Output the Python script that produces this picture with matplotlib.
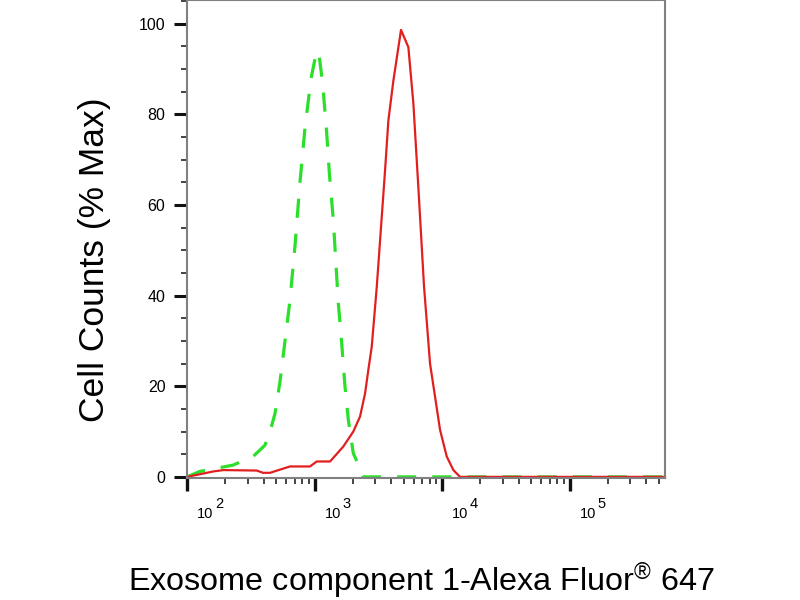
import matplotlib
matplotlib.use('Agg')
import matplotlib.pyplot as plt
from matplotlib.ticker import LogLocator, FixedLocator, MultipleLocator, NullFormatter
import numpy as np

plt.rcParams['font.family'] = ['Liberation Sans', 'DejaVu Sans']
plt.rcParams['mathtext.fontset'] = 'custom'
plt.rcParams['mathtext.rm'] = 'Liberation Sans'
plt.rcParams['mathtext.it'] = 'Liberation Sans'

# isotype control (green dashed)
ctrl_x = [100, 126, 230, 330, 409, 448, 490, 536, 587, 642, 703, 769, 842, 940,
          1040, 1091, 1159, 1247, 1307, 1404, 1537, 1634, 1734, 1841, 2014, 2274,
          2400, 560000]
ctrl_y = [0, 1.2, 2.6, 4.5, 7, 10, 14, 21, 30, 39, 51, 65, 77, 88,
          94, 92.6, 86.7, 75.7, 67, 56.6, 38.3, 29.4, 19.9, 12.6, 5.2, 1.9,
          0, 0]

# sample (red solid)
samp_x = [100, 161, 193, 352, 395, 448, 642, 922, 1040, 1324, 1682, 2014, 2274,
          2490, 2642, 2809, 3076, 3573, 3793, 4152, 4766, 5443, 5957, 6518,
          7221, 8049, 8810, 9640, 10880, 12270, 13840, 560000]
samp_y = [0, 1.2, 1.5, 1.4, 0.9, 0.9, 2.3, 2.3, 3.4, 3.4, 6.7, 10, 13.3,
          18.4, 23.6, 28.7, 41.9, 67.6, 78.6, 87.4, 98.6, 94.8, 82.4, 63.9,
          42, 25, 17.7, 10.4, 4.5, 1.5, 0, 0]

major_x = [1e2, 1e3, 1e4, 1e5]
y_ticks = [0, 20, 40, 60, 80, 100]

fig = plt.figure(figsize=(8, 6), dpi=100)
ax = fig.add_axes([0.23375, 0.2033, 0.5975, 0.7959])

ax.plot(ctrl_x, ctrl_y, color='#2bdf2b', lw=2.3, linestyle=(0, (6, 5)), clip_on=False)
ax.plot(samp_x, samp_y, color='#e11f1f', lw=1.6, clip_on=False)

ax.set_xscale('log')
ax.set_xlim(100, 560000)
ax.set_ylim(-0.25, 105.1)

ax.xaxis.set_major_locator(FixedLocator(major_x))
ax.xaxis.set_major_formatter(NullFormatter())
ax.xaxis.set_minor_locator(LogLocator(base=10, subs=range(2, 10)))
ax.xaxis.set_minor_formatter(NullFormatter())
ax.set_yticks(y_ticks)
ax.yaxis.set_minor_locator(MultipleLocator(5))

ax.tick_params(axis='both', which='major', direction='out', color='#111111',
               labelsize=11.5)
ax.tick_params(axis='x', which='major', length=9, width=2.4)
ax.tick_params(axis='y', which='major', length=9.5, width=2.2, pad=6)
ax.tick_params(axis='both', which='minor', direction='out', color='#111111',
               length=4.5, width=1.1)

# decade labels: "10" with a big raised exponent, right of the tick
for xv in major_x:
    ax.annotate('10', xy=(xv, 0), xycoords=('data', 'axes fraction'),
                xytext=(7.2, -28.5), textcoords='offset points',
                ha='left', va='baseline', fontsize=10.5)
    ax.annotate('%d' % round(np.log10(xv)), xy=(xv, 0),
                xycoords=('data', 'axes fraction'),
                xytext=(20, -21.8), textcoords='offset points',
                ha='left', va='baseline', fontsize=10.5)

for s in ax.spines.values():
    s.set_color('#808080')
    s.set_linewidth(1.5)

fig.text(95 / 800, 1 - 260 / 600, 'Cell Counts (% Max)', rotation=90,
         ha='center', va='center', fontsize=25.5)
fig.text(128 / 800, 1 - 591.7 / 600,
         r'Exosome component 1-Alexa Fluor$^{\circledR}$ 647',
         ha='left', va='baseline', fontsize=23.3)

fig.savefig('out.png', dpi=100, facecolor='white')
